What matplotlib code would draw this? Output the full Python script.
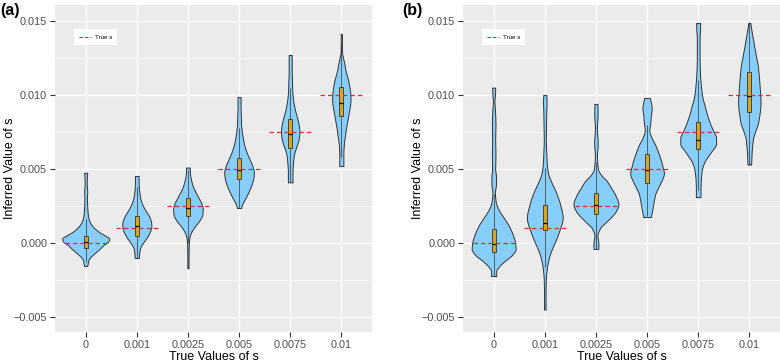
import numpy as np
import matplotlib
matplotlib.use("Agg")
import matplotlib.pyplot as plt
from matplotlib.lines import Line2D

plt.rcParams['font.family'] = ['Liberation Sans', 'DejaVu Sans']

# ---------------- data ----------------
categories = ['0', '0.001', '0.0025', '0.005', '0.0075', '0.01']
true_s = [0.0, 0.001, 0.0025, 0.005, 0.0075, 0.01]
y_ticks = [-0.005, 0.0, 0.005, 0.010, 0.015]
y_tick_labels = ['\u22120.005', '0.000', '0.005', '0.010', '0.015']

# violin density outlines (value, half-width), panel (a)
dens_a_s = [
    [0.00475, 0.0045, 0.0040, 0.0035, 0.0030, 0.0025, 0.0020, 0.0016, 0.0012, 0.0008, 0.0005, 0.0003, 0.0001, -0.0001, -0.0004, -0.0007, -0.0010, -0.0012, -0.0014, -0.00155],
    [0.00453, 0.0042, 0.0038, 0.0034, 0.0030, 0.0026, 0.0022, 0.0018, 0.0014, 0.0011, 0.0008, 0.0004, 0.0000, -0.0003, -0.0006, -0.00101],
    [0.0051, 0.0047, 0.0043, 0.0039, 0.0035, 0.0031, 0.0027, 0.0023, 0.0019, 0.0015, 0.0011, 0.0007, 0.0004, 0.0001, -0.0003, -0.0008, -0.0013, -0.0017],
    [0.00986, 0.0092, 0.0086, 0.0080, 0.0074, 0.0068, 0.0062, 0.0057, 0.0052, 0.0048, 0.0044, 0.0040, 0.0035, 0.0030, 0.0026, 0.00236],
    [0.0127, 0.0122, 0.0116, 0.0110, 0.0104, 0.0099, 0.0094, 0.0089, 0.0084, 0.0079, 0.0075, 0.0071, 0.0067, 0.0063, 0.0059, 0.0054, 0.0048, 0.0041],
    [0.01412, 0.0135, 0.0129, 0.0125, 0.0121, 0.0117, 0.0113, 0.0109, 0.0105, 0.0101, 0.0097, 0.0093, 0.0089, 0.0085, 0.0081, 0.0077, 0.0072, 0.0067, 0.0060, 0.0052],
]
dens_a_w = [
    [0.03, 0.025, 0.02, 0.03, 0.025, 0.03, 0.04, 0.06, 0.12, 0.24, 0.38, 0.46, 0.44, 0.36, 0.27, 0.17, 0.08, 0.05, 0.04, 0.03],
    [0.035, 0.035, 0.04, 0.05, 0.07, 0.11, 0.17, 0.24, 0.28, 0.285, 0.26, 0.2, 0.12, 0.07, 0.05, 0.04],
    [0.035, 0.04, 0.06, 0.09, 0.14, 0.2, 0.26, 0.29, 0.28, 0.22, 0.13, 0.06, 0.03, 0.02, 0.015, 0.012, 0.012, 0.012],
    [0.03, 0.03, 0.035, 0.04, 0.06, 0.09, 0.14, 0.2, 0.26, 0.29, 0.28, 0.25, 0.19, 0.12, 0.06, 0.04],
    [0.03, 0.03, 0.03, 0.035, 0.04, 0.05, 0.07, 0.1, 0.14, 0.17, 0.18, 0.17, 0.14, 0.10, 0.07, 0.055, 0.045, 0.045],
    [0.012, 0.012, 0.015, 0.035, 0.06, 0.08, 0.11, 0.14, 0.16, 0.175, 0.18, 0.17, 0.15, 0.13, 0.11, 0.09, 0.07, 0.05, 0.04, 0.04],
]
# panel (b)
dens_b_s = [
    [0.0105, 0.0100, 0.0096, 0.0090, 0.0080, 0.0070, 0.0060, 0.0050, 0.0045, 0.0040, 0.0034, 0.0028, 0.0023, 0.0018, 0.0012, 0.0006, 0.0000, -0.0004, -0.0008, -0.0012, -0.0016, -0.0019, -0.00223],
    [0.0100, 0.0095, 0.0090, 0.0080, 0.0070, 0.0060, 0.0053, 0.0047, 0.0041, 0.0035, 0.0026, 0.0017, 0.0008, 0.0000, -0.0003, -0.0010, -0.0017, -0.0025, -0.0035, -0.0045],
    [0.0094, 0.0087, 0.0078, 0.0067, 0.0059, 0.0050, 0.0046, 0.0042, 0.0037, 0.0033, 0.0026, 0.0021, 0.0017, 0.0013, 0.0010, 0.0005, -0.0001, -0.0004],
    [0.0098, 0.0094, 0.0091, 0.0085, 0.0082, 0.0076, 0.0071, 0.0067, 0.0062, 0.0057, 0.0052, 0.0047, 0.0042, 0.0037, 0.0033, 0.0030, 0.0024, 0.00176],
    [0.01486, 0.0143, 0.0138, 0.0126, 0.0115, 0.0104, 0.0098, 0.0093, 0.0087, 0.0081, 0.0076, 0.0071, 0.0067, 0.0062, 0.0058, 0.0055, 0.0049, 0.0042, 0.0036, 0.0031],
    [0.01486, 0.0143, 0.0138, 0.0132, 0.01264, 0.0121, 0.0115, 0.0109, 0.0104, 0.0099, 0.0095, 0.0090, 0.0085, 0.0081, 0.0076, 0.0070, 0.0065, 0.0061, 0.0057, 0.0053],
]
dens_b_w = [
    [0.03, 0.025, 0.015, 0.025, 0.035, 0.03, 0.035, 0.03, 0.045, 0.045, 0.025, 0.04, 0.09, 0.18, 0.29, 0.37, 0.42, 0.43, 0.36, 0.22, 0.1, 0.05, 0.05],
    [0.03, 0.035, 0.03, 0.025, 0.02, 0.03, 0.04, 0.065, 0.13, 0.21, 0.30, 0.35, 0.28, 0.19, 0.15, 0.08, 0.04, 0.02, 0.015, 0.015],
    [0.03, 0.033, 0.02, 0.035, 0.02, 0.04, 0.1, 0.21, 0.3, 0.37, 0.44, 0.38, 0.28, 0.16, 0.08, 0.03, 0.05, 0.045],
    [0.055, 0.08, 0.09, 0.07, 0.065, 0.045, 0.09, 0.15, 0.21, 0.26, 0.3, 0.33, 0.28, 0.21, 0.16, 0.14, 0.11, 0.075],
    [0.04, 0.035, 0.027, 0.027, 0.035, 0.06, 0.085, 0.125, 0.17, 0.23, 0.29, 0.35, 0.35, 0.26, 0.18, 0.125, 0.07, 0.05, 0.045, 0.045],
    [0.02, 0.045, 0.07, 0.1, 0.13, 0.16, 0.18, 0.195, 0.205, 0.215, 0.22, 0.21, 0.19, 0.17, 0.12, 0.07, 0.055, 0.045, 0.04, 0.035],
]

# box plot statistics
q1_a = [-0.00034, 0.00047, 0.0018, 0.0043, 0.0064, 0.00858]
med_a = [0.00007, 0.00115, 0.00236, 0.00495, 0.00736, 0.00946]
q3_a = [0.00047, 0.0018, 0.00304, 0.00575, 0.00838, 0.01054]
wlo_a = [-0.0013, -0.0010, 0.0000, 0.0024, 0.0041, 0.0058]
whi_a = [0.0016, 0.0038, 0.0049, 0.0078, 0.0105, 0.0135]

q1_b = [-0.0006, 0.0009, 0.00196, 0.00405, 0.00635, 0.00885]
med_b = [-0.00007, 0.00135, 0.00257, 0.00493, 0.00696, 0.00993]
q3_b = [0.00095, 0.0026, 0.00338, 0.006, 0.0082, 0.01155]
wlo_b = [-0.0022, -0.0016, -0.0004, 0.0018, 0.0036, 0.0053]
whi_b = [0.0033, 0.0051, 0.0055, 0.0080, 0.0110, 0.0149]

# ---------------- helpers ----------------
def pchip(x, y, xs):
    x = np.asarray(x, float); y = np.asarray(y, float)
    h = np.diff(x); d = np.diff(y) / h
    n = len(x); m = np.zeros(n)
    m[0] = d[0]; m[-1] = d[-1]
    for k in range(1, n - 1):
        if d[k - 1] * d[k] > 0:
            w1 = 2 * h[k] + h[k - 1]; w2 = h[k] + 2 * h[k - 1]
            m[k] = (w1 + w2) / (w1 / d[k - 1] + w2 / d[k])
    idx = np.clip(np.searchsorted(x, xs) - 1, 0, n - 2)
    t = (xs - x[idx]) / h[idx]
    h00 = 2 * t**3 - 3 * t**2 + 1; h10 = t**3 - 2 * t**2 + t
    h01 = -2 * t**3 + 3 * t**2; h11 = t**3 - t**2
    return h00 * y[idx] + h10 * h[idx] * m[idx] + h01 * y[idx + 1] + h11 * h[idx] * m[idx + 1]

VIOLIN = '#87CEFA'
EDGE = '#333333'
BOX = '#D9A521'
RED = '#E0282E'

def draw_panel(ax, dens_s, dens_w, q1, med, q3, wlo, whi):
    ax.set_facecolor('#EBEBEB')
    pos = np.arange(1, len(categories) + 1)
    for i, p in enumerate(pos):
        s = np.asarray(dens_s[i])[::-1]
        w = np.asarray(dens_w[i])[::-1]
        ys = np.linspace(s[0], s[-1], 300)
        ws = np.clip(pchip(s, w, ys), 0.004, None)
        ax.fill_betweenx(ys, p - ws, p + ws, facecolor=VIOLIN, edgecolor=EDGE,
                         linewidth=0.7, zorder=2)
        ax.vlines(p, wlo[i], q1[i], color=EDGE, lw=0.5, zorder=3)
        ax.vlines(p, q3[i], whi[i], color=EDGE, lw=0.5, zorder=3)
    bw = 0.075
    ax.bar(pos, np.array(q3) - np.array(q1), bottom=q1, width=bw, color=BOX,
           edgecolor=EDGE, linewidth=0.6, zorder=4)
    ax.hlines(med, pos - bw / 2, pos + bw / 2, color='black', lw=0.9, zorder=5)
    ax.hlines(true_s, pos - 0.41, pos + 0.41, color=RED, lw=0.9,
              linestyles=(0, (3.5, 2.5)), zorder=6)

    ax.set_xlim(0.4, 6.6)
    ax.set_ylim(-0.00601, 0.01608)
    ax.set_xticks(pos)
    ax.set_xticklabels(categories)
    ax.set_yticks(y_ticks)
    ax.set_yticklabels(y_tick_labels)
    ax.set_yticks([-0.0025, 0.0025, 0.0075, 0.0125], minor=True)
    ax.grid(which='major', color='white', lw=1.0)
    ax.grid(which='minor', axis='y', color='white', lw=0.5)
    ax.set_axisbelow(True)
    for sp in ax.spines.values():
        sp.set_visible(False)
    ax.tick_params(axis='both', which='major', length=3.6, width=0.8, color='#333333',
                   labelcolor='#4D4D4D', labelsize=7.8, pad=2)
    ax.tick_params(axis='y', which='minor', length=0)
    ax.set_xlabel('True Values of s', fontsize=9, labelpad=1)
    ax.set_ylabel('Inferred Value of s', fontsize=9)
    ax.yaxis.set_label_coords(-0.124, 0.5)
    h = Line2D([0], [0], color=RED, lw=0.8, linestyle=(0, (3, 2)))
    ax.legend([h], ['True s'], loc='upper left', bbox_to_anchor=(0.05, 0.935),
              fontsize=4.5, frameon=True, fancybox=False, facecolor='white',
              edgecolor='none', handlelength=1.9, handletextpad=0.6,
              borderpad=0.8, framealpha=1)

fig = plt.figure(figsize=(7.8, 3.62), dpi=100)
ax_a = fig.add_axes([55 / 780, 30 / 362, 317 / 780, 327 / 362])
ax_b = fig.add_axes([463 / 780, 30 / 362, 317 / 780, 327 / 362])
draw_panel(ax_a, dens_a_s, dens_a_w, q1_a, med_a, q3_a, wlo_a, whi_a)
draw_panel(ax_b, dens_b_s, dens_b_w, q1_b, med_b, q3_b, wlo_b, whi_b)

fig.text(0.0, 0.97, '(a)', fontsize=11.5, fontweight='bold', ha='left', va='center')
fig.text(402 / 780, 0.97, '(b)', fontsize=11.5, fontweight='bold', ha='left', va='center')

fig.savefig('out.png', dpi=100)
